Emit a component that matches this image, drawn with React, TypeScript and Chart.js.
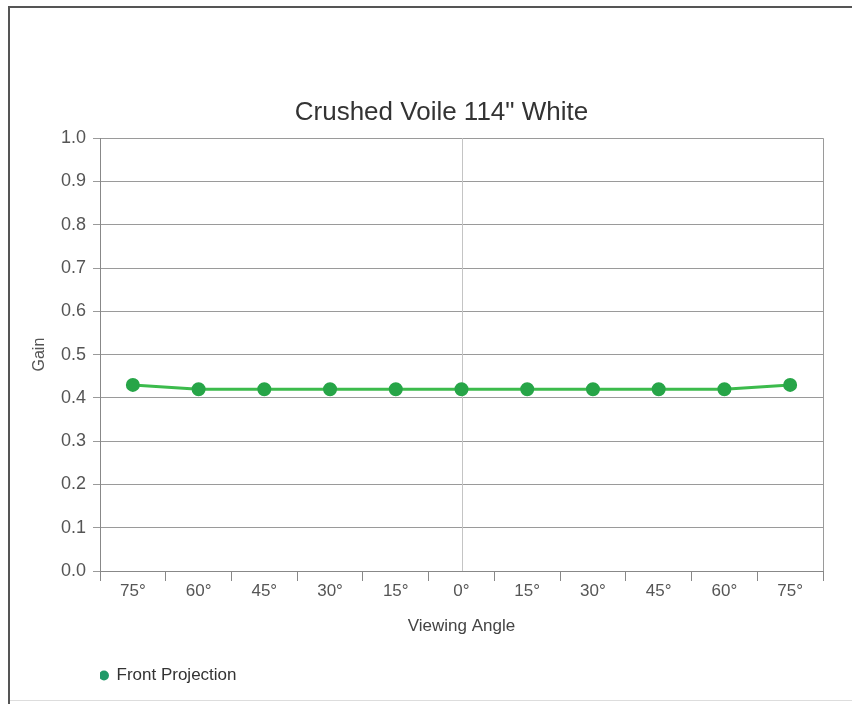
import React, { useEffect, useRef } from "react";
import { Chart, registerables } from "chart.js";

Chart.register(...registerables);

const categories = ["75°", "60°", "45°", "30°", "15°", "0°", "15°", "30°", "45°", "60°", "75°"];
const frontProjection = [0.43, 0.42, 0.42, 0.42, 0.42, 0.42, 0.42, 0.42, 0.42, 0.42, 0.43];
const seriesName = "Front Projection";
const chartTitle = "Crushed Voile 114\" White";
const yTitle = "Gain";
const xTitle = "Viewing Angle";
const centerCategoryIndex = 5;

const FONT = "'Liberation Sans', Arial, sans-serif";

const framePlugin = {
  id: "framePlugin",
  beforeDatasetsDraw(chart: any) {
    const { ctx, chartArea, scales } = chart;
    const x = Math.round(scales.x.getPixelForValue(centerCategoryIndex)) + 0.5;
    ctx.save();
    ctx.strokeStyle = "#c4c4c4";
    ctx.lineWidth = 1;
    ctx.beginPath();
    ctx.moveTo(x, chartArea.top);
    ctx.lineTo(x, chartArea.bottom);
    ctx.stroke();
    const r = Math.round(chartArea.right) + 0.5;
    ctx.strokeStyle = "#9a9a9a";
    ctx.beginPath();
    ctx.moveTo(r, chartArea.top);
    ctx.lineTo(r, chartArea.bottom);
    ctx.stroke();
    ctx.restore();
  },
};

export default function App() {
  const ref = useRef<HTMLCanvasElement | null>(null);

  useEffect(() => {
    if (!ref.current) return;
    const chart = new Chart(ref.current, {
      type: "line",
      data: {
        labels: categories,
        datasets: [
          {
            label: seriesName,
            data: frontProjection,
            borderColor: "#3cbb4c",
            backgroundColor: "#1f9a68",
            pointBackgroundColor: "#27a548",
            pointBorderColor: "#27a548",
            borderWidth: 3,
            pointRadius: 5.5,
            pointHoverRadius: 5.5,
            tension: 0,
          },
        ],
      },
      options: {
        responsive: false,
        animation: false,
        events: [],
        layout: { padding: { left: 60, right: 29, top: 0, bottom: 10 } },
        plugins: {
          title: {
            display: true,
            text: chartTitle,
            color: "#333",
            font: { family: FONT, size: 26, weight: "normal" },
            padding: { top: 97, bottom: 10 },
          },
          legend: {
            position: "bottom",
            align: "start",
            fullSize: false,
            labels: {
              usePointStyle: true,
              pointStyle: "circle",
              boxWidth: 8,
              boxHeight: 7,
              padding: 0,
              color: "#333",
              font: { family: FONT, size: 17 },
              generateLabels: () => [
                {
                  text: seriesName,
                  fillStyle: "#1f9a68",
                  strokeStyle: "#1f9a68",
                  lineWidth: 0,
                  pointStyle: "circle",
                  datasetIndex: 0,
                  fontColor: "#333",
                },
              ],
            },
          },
          tooltip: { enabled: false },
        },
        scales: {
          x: {
            offset: true,
            afterFit: (s: any) => {
              s.height = 96;
            },
            grid: {
              display: true,
              drawOnChartArea: false,
              offset: true,
              tickLength: 10,
              color: "#888",
            },
            border: { display: true, color: "#888", width: 1 },
            ticks: {
              color: "#555",
              font: { family: FONT, size: 17 },
              padding: 0,
              maxRotation: 0,
              autoSkip: false,
            },
            title: {
              display: true,
              text: xTitle,
              color: "#444",
              font: { family: FONT, size: 17 },
              padding: { top: 0, bottom: 30 },
            },
          },
          y: {
            min: 0,
            max: 1,
            afterFit: (s: any) => {
              s.width = 40;
            },
            ticks: {
              stepSize: 0.1,
              color: "#555",
              font: { family: FONT, size: 18 },
              padding: 7,
              callback: (v: any) => Number(v).toFixed(1),
            },
            grid: {
              color: "#9a9a9a",
              lineWidth: 1,
              tickLength: 7,
            },
            border: { display: true, color: "#888", width: 1 },
            title: {
              display: true,
              text: yTitle,
              color: "#555",
              font: { family: FONT, size: 16 },
              padding: { top: -30, bottom: 0 },
            },
          },
        },
      },
      plugins: [framePlugin],
    });
    return () => chart.destroy();
  }, []);

  return (
    <div style={{ position: "absolute", left: 0, top: 0, width: 852, height: 704, background: "#fff" }}>
      <canvas ref={ref} width={852} height={704} style={{ position: "absolute", left: 0, top: 0 }} />
      <div style={{ position: "absolute", left: 9, top: 6, width: 843, height: 2, background: "#555" }} />
      <div style={{ position: "absolute", left: 8, top: 6, width: 2, height: 698, background: "#555" }} />
      <div style={{ position: "absolute", left: 10, top: 700, width: 842, height: 1, background: "#ddd" }} />
    </div>
  );
}
